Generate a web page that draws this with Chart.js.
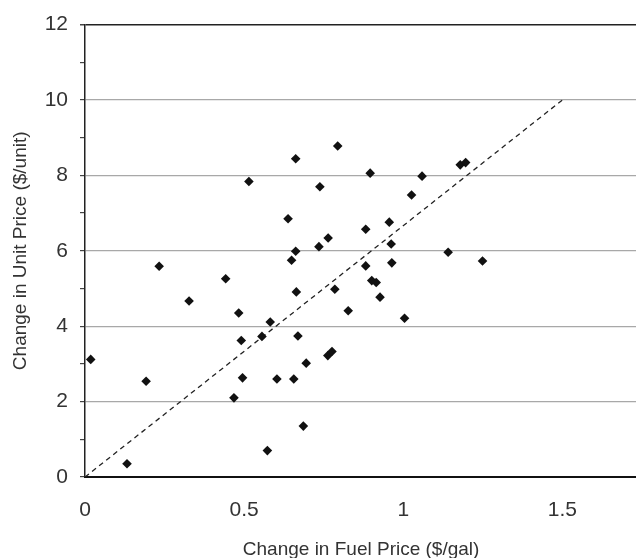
<!DOCTYPE html>
<html>
<head>
<meta charset="utf-8">
<script src="https://cdn.jsdelivr.net/npm/chart.js@4/dist/chart.umd.min.js"></script>
<style>
  html, body { margin: 0; padding: 0; background: #fff; overflow: hidden; }
  #wrap { width: 642px; height: 564px; position: relative; }
</style>
</head>
<body>
<div id="wrap"><canvas id="cnvChart"></canvas></div>
<script>
// change in fuel price ($/gal) and change in unit price ($/unit)
const fuelChange = [0.018, 0.132, 0.192, 0.233, 0.327, 0.442, 0.483, 0.468, 0.491, 0.495,
  0.515, 0.556, 0.582, 0.573, 0.603, 0.638, 0.649, 0.656, 0.662, 0.662,
  0.664, 0.669, 0.686, 0.695, 0.735, 0.738, 0.764, 0.763, 0.776, 0.785,
  0.794, 0.827, 0.882, 0.882, 0.896, 0.901, 0.915, 0.927, 0.956, 0.962,
  0.964, 1.004, 1.026, 1.059, 1.141, 1.179, 1.196, 1.249]
const unitChange = [3.12, 0.35, 2.54, 5.59, 4.67, 5.26, 4.35, 2.10, 3.62, 2.63,
  7.84, 3.73, 4.11, 0.70, 2.60, 6.85, 5.75, 2.60, 8.44, 5.99,
  4.91, 3.74, 1.35, 3.02, 6.11, 7.70, 6.34, 3.22, 3.33, 4.98,
  8.78, 4.41, 6.57, 5.60, 8.06, 5.21, 5.16, 4.77, 6.76, 6.18,
  5.68, 4.21, 7.48, 7.98, 5.96, 8.28, 8.34, 5.73]

// dashed reference line
const refX = [0, 1.5]
const refY = [0, 10]

const xTicks = [0, 0.5, 1, 1.5]
const yLabelled = [0, 2, 4, 6, 8, 10, 12]

let points = fuelChange.map((x, i) => ({ x: x, y: unitChange[i] }))
let refLine = refX.map((x, i) => ({ x: x, y: refY[i] }))

let ctx = document.getElementById('cnvChart').getContext('2d')
let chart = new Chart(ctx, {
  type: 'scatter',
  data: {
    datasets: [
      {
        data: points,
        pointStyle: 'rectRot',
        pointRadius: 4.8,
        backgroundColor: '#111',
        borderWidth: 0
      },
      {
        type: 'line',
        data: refLine,
        borderColor: '#222',
        borderWidth: 1.3,
        borderDash: [5, 4],
        pointRadius: 0,
        fill: false
      }
    ]
  },
  options: {
    responsive: true,
    maintainAspectRatio: false,
    animation: false,
    layout: { padding: { top: 22, right: 0, left: 0, bottom: 0 } },
    plugins: { legend: { display: false }, tooltip: { enabled: false } },
    scales: {
      x: {
        type: 'linear',
        min: 0,
        max: 1.735,
        afterBuildTicks: (s) => { s.ticks = xTicks.map(v => ({ value: v })) },
        afterFit: (s) => { s.height = 87 },
        ticks: {
          font: { family: 'Liberation Sans', size: 21 },
          color: '#333',
          padding: 16,
          callback: (v) => String(v)
        },
        grid: { drawOnChartArea: false, tickLength: 5, tickColor: 'rgba(0,0,0,0)' },
        border: { color: '#111', width: 2 },
        title: {
          display: true,
          text: 'Change in Fuel Price ($/gal)',
          font: { family: 'Liberation Sans', size: 19 },
          color: '#333',
          padding: { top: 4, bottom: 3 }
        }
      },
      y: {
        min: 0,
        max: 12,
        ticks: {
          stepSize: 1,
          autoSkip: false,
          font: { family: 'Liberation Sans', size: 21 },
          color: '#333',
          padding: 12,
          callback: (v) => yLabelled.includes(v) ? String(v) : ''
        },
        afterFit: (s) => { s.width = 85 },
        grid: {
          color: (c) => {
            let v = c.tick.value
            if (v === 12) return '#222'
            if (v === 0) return 'rgba(0,0,0,0)'
            return yLabelled.includes(v) ? '#a8a8a8' : 'rgba(0,0,0,0)'
          },
          lineWidth: (c) => c.tick.value === 12 ? 1.5 : 1.2,
          tickColor: '#444',
          tickLength: 5
        },
        border: { color: '#222', width: 1.5 },
        title: {
          display: true,
          text: 'Change in Unit Price ($/unit)',
          font: { family: 'Liberation Sans', size: 19 },
          color: '#333',
          padding: { top: 9, bottom: 4 }
        }
      }
    }
  }
})
</script>
</body>
</html>
